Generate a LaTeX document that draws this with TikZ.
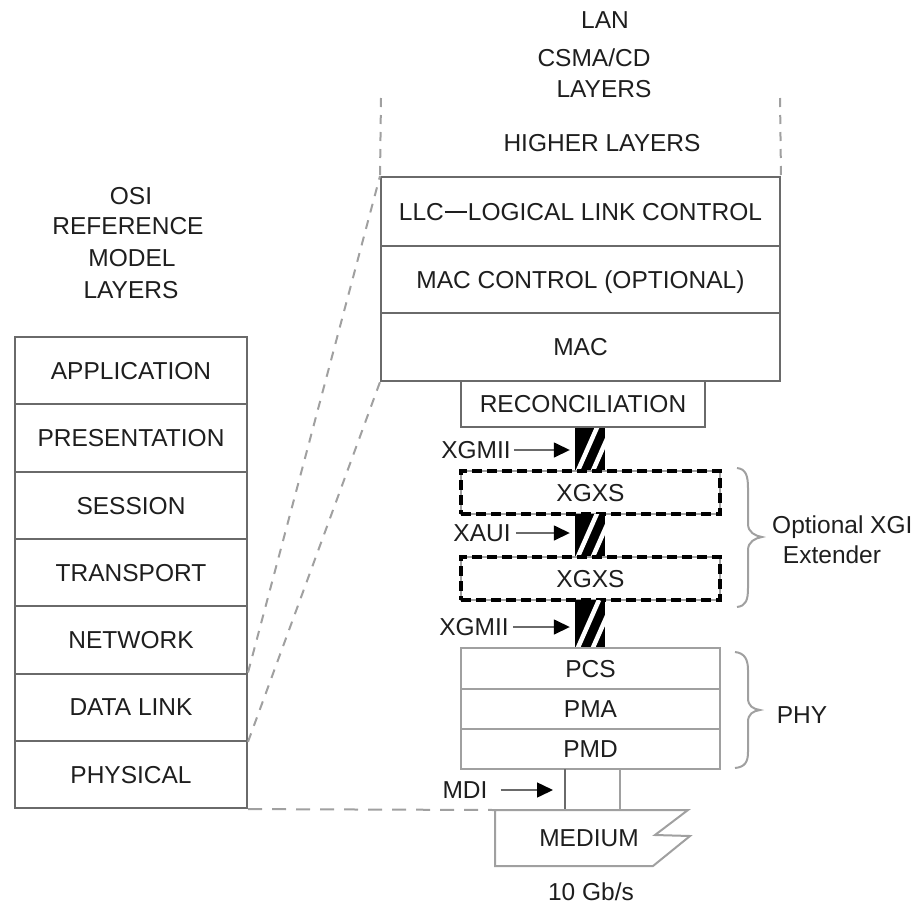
\documentclass[tikz,border=0pt]{standalone}
\usepackage{fontspec}
\setmainfont{Liberation Sans}
\usetikzlibrary{arrows.meta}
\definecolor{ln}{HTML}{6A6A6A}
\definecolor{lnl}{HTML}{A0A0A0}
\definecolor{tx}{HTML}{1E1E1E}
\begin{document}
\begin{tikzpicture}[x=1pt,y=-1pt,
  every node/.style={font=\fontsize{24.5}{29}\selectfont, text=tx, inner sep=0pt, text height=17.5pt, text depth=0pt},
  layer/.style={draw=ln, line width=2pt, minimum width=232pt, minimum height=67.3pt},
  lanbox/.style={draw=ln, line width=2pt, minimum width=399pt},
  subbox/.style={draw=lnl, line width=2pt, minimum width=259pt},
  xgxs/.style={draw=lnl, line width=1.5pt, fill=white, minimum width=259pt, minimum height=43pt,
     postaction={draw=black, line width=4pt, dash pattern=on 10pt off 5pt}},
  hatch/.style={fill=black, minimum width=30pt,
     path picture={\foreach \o in {1,16}
        \draw[white, line width=4.5pt] ([xshift=\o pt, yshift=-4pt]path picture bounding box.south west) -- ++(23pt,52pt);}},
  conn/.style={draw=lnl, line width=2pt, dash pattern=on 9pt off 8pt},
  arr/.style={draw=ln, line width=1.5pt, -{Triangle[length=16pt,width=15pt,color=black,fill=black]}},
  brace/.style={draw=lnl, line width=2pt},
]
\useasboundingbox (0,0) rectangle (913,908);

% OSI labels
\node (osi1) at (131,196) {OSI};
\node (osi2) at (128,226) {REFERENCE};
\node (osi3) at (132,258) {MODEL};
\node (osi4) at (131,290) {LAYERS};

% OSI stack
\node[layer] (app)  at (131,370.65) {APPLICATION};
\node[layer] (pres) at (131,437.95) {PRESENTATION};
\node[layer] (sess) at (131,505.25) {SESSION};
\node[layer] (trans) at (131,572.55) {TRANSPORT};
\node[layer] (net)  at (131,639.85) {NETWORK};
\node[layer] (dl)   at (131,707.15) {DATA LINK};
\node[layer] (phys) at (131,774.45) {PHYSICAL};

% LAN labels
\node (lan1) at (605,20) {LAN};
\node (lan2) at (594,58) {CSMA/CD};
\node (lan3) at (604,89) {LAYERS};
\node (hl) at (602,143) {HIGHER LAYERS};

% LAN stack
\node[lanbox, minimum height=69pt] (llc) at (580.5,211.5) {LLC{\kern1pt}\rule[7.5pt]{22pt}{1.6pt}{\kern1pt}LOGICAL LINK CONTROL};
\node[lanbox, minimum height=67pt] (macc) at (580.5,279.5) {MAC CONTROL (OPTIONAL)};
\node[lanbox, minimum height=68pt] (mac) at (580.5,347) {MAC};
\node[draw=ln, line width=2pt, minimum width=244pt, minimum height=46pt] (rec) at (583,404) {RECONCILIATION};

% higher layers dashed sides
\coordinate (hlL) at (381,98);
\coordinate (hlR) at (780,98);
\draw[conn] (hlL) -- (llc.north west);
\draw[conn] (hlR) -- (llc.north east);

% XGXS
\node[hatch, minimum height=43pt] (hb1) at (590,449.5) {};
\node[xgxs] (xg1) at (590.5,492.5) {XGXS};
\node[hatch, minimum height=43pt] (hb2) at (590,535.5) {};
\node[xgxs] (xg2) at (590.5,578.5) {XGXS};
\node[hatch, minimum height=48pt] (hb3) at (590,624) {};

% PHY
\node[subbox, minimum height=41pt] (pcs) at (590.5,668.5) {PCS};
\node[subbox, minimum height=40pt] (pma) at (590.5,709) {PMA};
\node[subbox, minimum height=40pt] (pmd) at (590.5,749) {PMD};

% interface labels and arrows
\node (xgm1) at (476,450) {XGMII};
\node (xaui) at (482,533) {XAUI};
\node (xgm2) at (474,627) {XGMII};
\node (mdi) at (465,790) {MDI};
\draw[arr, shorten <=3pt, shorten >=5pt] (xgm1.east) -- (xgm1.east -| hb1.west);
\draw[arr, shorten <=5pt, shorten >=5pt] (xaui.east) -- (xaui.east -| hb2.west);
\draw[arr, shorten <=4pt, shorten >=5pt] (xgm2.east) -- (xgm2.east -| hb3.west);

% MDI lines
\coordinate (mdiA) at (565,769);
\coordinate (mdiB) at (565,810);
\coordinate (mdiC) at (620,769);
\coordinate (mdiD) at (620,810);
\draw[draw=ln, line width=2pt] (mdiA) -- (mdiB);
\draw[draw=lnl, line width=2pt] (mdiC) -- (mdiD);
\draw[arr, shorten <=13pt, shorten >=12pt] (mdi.east) -- (mdi.east -| mdiA);

% Medium
\coordinate (m1) at (495,810);
\coordinate (m2) at (688,810);
\coordinate (m3) at (655,835);
\coordinate (m4) at (690,836);
\coordinate (m5) at (653,866);
\coordinate (m6) at (495,866);
\draw[draw=lnl, line width=2pt, line join=miter] (m1) -- (m2) -- (m3) -- (m4) -- (m5) -- (m6) -- cycle;
\node (med) at (589,838) {MEDIUM};
\node (rate) at (591,892) {10 Gb/s};

% OSI to LAN dashed mapping
\draw[conn] (dl.north east) -- (llc.north west);
\draw[conn] (dl.south east) -- (mac.south west);
\draw[conn, dash pattern=on 14pt off 10pt] (phys.south east) -- (m1);

% braces
\draw[brace] (737,468) .. controls (746,469) and (748,476) .. (748,488) -- (748,524)
  .. controls (748,532) and (755,536) .. (762,537)
  .. controls (755,538) and (748,542) .. (748,550) -- (748,588)
  .. controls (748,600) and (746,606) .. (737,607);
\node[anchor=west] (optx) at (772,525) {Optional XGI};
\node (ext) at (832,555) {Extender};

\draw[brace] (735,652) .. controls (745,653) and (748,660) .. (748,670) -- (748,698)
  .. controls (748,706) and (753,709) .. (760,710)
  .. controls (753,711) and (748,714) .. (748,722) -- (748,752)
  .. controls (748,762) and (745,767) .. (735,768);
\node (phy) at (802,715) {PHY};
\end{tikzpicture}
\end{document}
